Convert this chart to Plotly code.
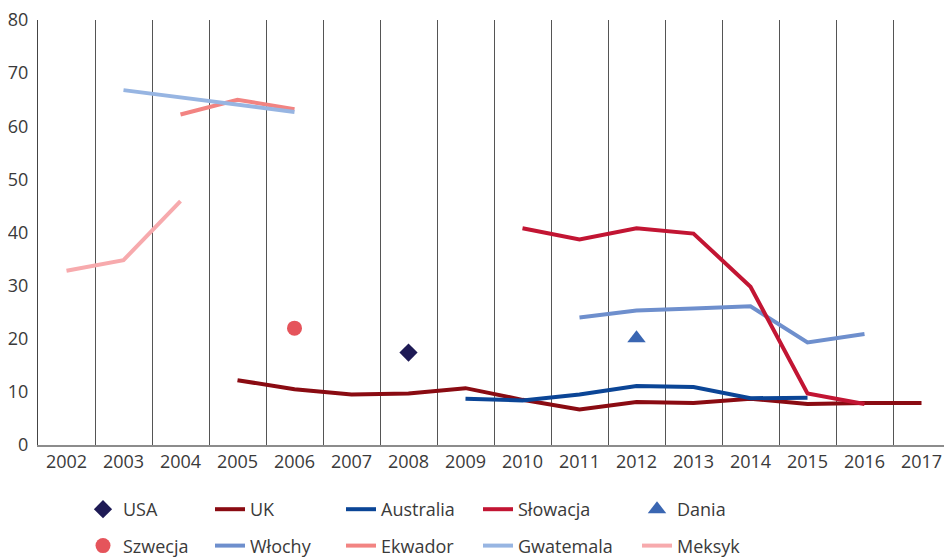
import plotly.graph_objects as go

years = [str(y) for y in range(2002, 2018)]

usa_x = ["2008"]; usa_y = [17.4]
szwecja_x = ["2006"]; szwecja_y = [22.0]
dania_x = ["2012"]; dania_y = [20.1]

uk_x = [str(y) for y in range(2005, 2018)]
uk_y = [12.2, 10.5, 9.5, 9.7, 10.7, 8.5, 6.7, 8.1, 7.9, 8.7, 7.7, 7.9, 7.9]

australia_x = [str(y) for y in range(2009, 2016)]
australia_y = [8.7, 8.4, 9.5, 11.1, 10.9, 8.8, 8.9]

slowacja_x = [str(y) for y in range(2010, 2017)]
slowacja_y = [40.8, 38.7, 40.8, 39.8, 29.8, 9.7, 7.7]

wlochy_x = [str(y) for y in range(2011, 2017)]
wlochy_y = [24.0, 25.3, 25.7, 26.1, 19.3, 20.9]

ekwador_x = ["2004", "2005", "2006"]
ekwador_y = [62.2, 65.0, 63.2]

gwatemala_x = ["2003", "2004", "2005", "2006"]
gwatemala_y = [66.8, 65.4, 64.1, 62.7]

meksyk_x = ["2002", "2003", "2004"]
meksyk_y = [32.8, 34.8, 45.9]

TXT = "#3a3a3a"
FONT = "Open Sans"
FS = 18

fig = go.Figure()

def line(name, x, y, color, legend, group):
    fig.add_trace(go.Scatter(x=x, y=y, name=name, mode="lines",
                             line=dict(color=color, width=4),
                             legend=legend, legendgroup=group))

def mark(name, x, y, color, symbol, size, legend, group):
    fig.add_trace(go.Scatter(x=x, y=y, name=name, mode="markers",
                             marker=dict(color=color, symbol=symbol, size=size),
                             legend=legend, legendgroup=group))

mark("USA", usa_x, usa_y, "#1e1a55", "diamond", 14, "legend", "a1")
mark("Szwecja", szwecja_x, szwecja_y, "#e5545b", "circle", 15, "legend", "a2")
line("UK", uk_x, uk_y, "#8a0b12", "legend2", "b1")
line("Włochy", wlochy_x, wlochy_y, "#6e8fcd", "legend2", "b2")
line("Australia", australia_x, australia_y, "#0b4596", "legend3", "c1")
line("Ekwador", ekwador_x, ekwador_y, "#f28482", "legend3", "c2")
line("Słowacja", slowacja_x, slowacja_y, "#c21533", "legend4", "d1")
line("Gwatemala", gwatemala_x, gwatemala_y, "#97b5e2", "legend4", "d2")
mark("Dania", dania_x, dania_y, "#3a66b2", "triangle-up", 16, "legend5", "e1")
line("Meksyk", meksyk_x, meksyk_y, "#f7aaad", "legend5", "e2")

# page body adds an 8px offset; margins compensate for it
L, R, T, B = 30, 10, 12, 121
W, H = 952, 558

leg_common = dict(orientation="v", yanchor="top", xanchor="left",
                  xref="container", yref="container",
                  font=dict(family=FONT, size=FS, color=TXT),
                  bgcolor="rgba(0,0,0,0)", tracegroupgap=10, borderwidth=0)
legend_top = 483
cols = [75, 202, 333, 470, 629]

fig.update_layout(
    width=W, height=H,
    margin=dict(l=L, r=R, t=T, b=B, autoexpand=False),
    paper_bgcolor="white", plot_bgcolor="white",
    font=dict(family=FONT, size=FS, color=TXT),
    showlegend=True,
    legend=dict(x=cols[0] / W, y=1 - legend_top / H, **leg_common),
    legend2=dict(x=cols[1] / W, y=1 - legend_top / H, **leg_common),
    legend3=dict(x=cols[2] / W, y=1 - legend_top / H, **leg_common),
    legend4=dict(x=cols[3] / W, y=1 - legend_top / H, **leg_common),
    legend5=dict(x=cols[4] / W, y=1 - legend_top / H, **leg_common),
    xaxis=dict(type="category", categoryorder="array", categoryarray=years,
               tickvals=years, range=[-0.5, 15.5], tickson="boundaries",
               showgrid=True, gridcolor="#555555", gridwidth=1,
               showline=True, linecolor="#8c8c8c", linewidth=1.5,
               ticks="", tickfont=dict(family=FONT, size=FS, color=TXT),
               ticklabeloverflow="allow",
               zeroline=False, fixedrange=True, automargin=False),
    yaxis=dict(range=[0, 80], dtick=10, tick0=0, showgrid=False,
               showline=True, linecolor="#444444", linewidth=1,
               ticks="outside", ticklen=5, tickcolor="rgba(0,0,0,0)",
               tickfont=dict(family=FONT, size=FS, color=TXT),
               ticklabeloverflow="allow",
               zeroline=False, fixedrange=True, automargin=False),
)

fig.write_html("out.html")
